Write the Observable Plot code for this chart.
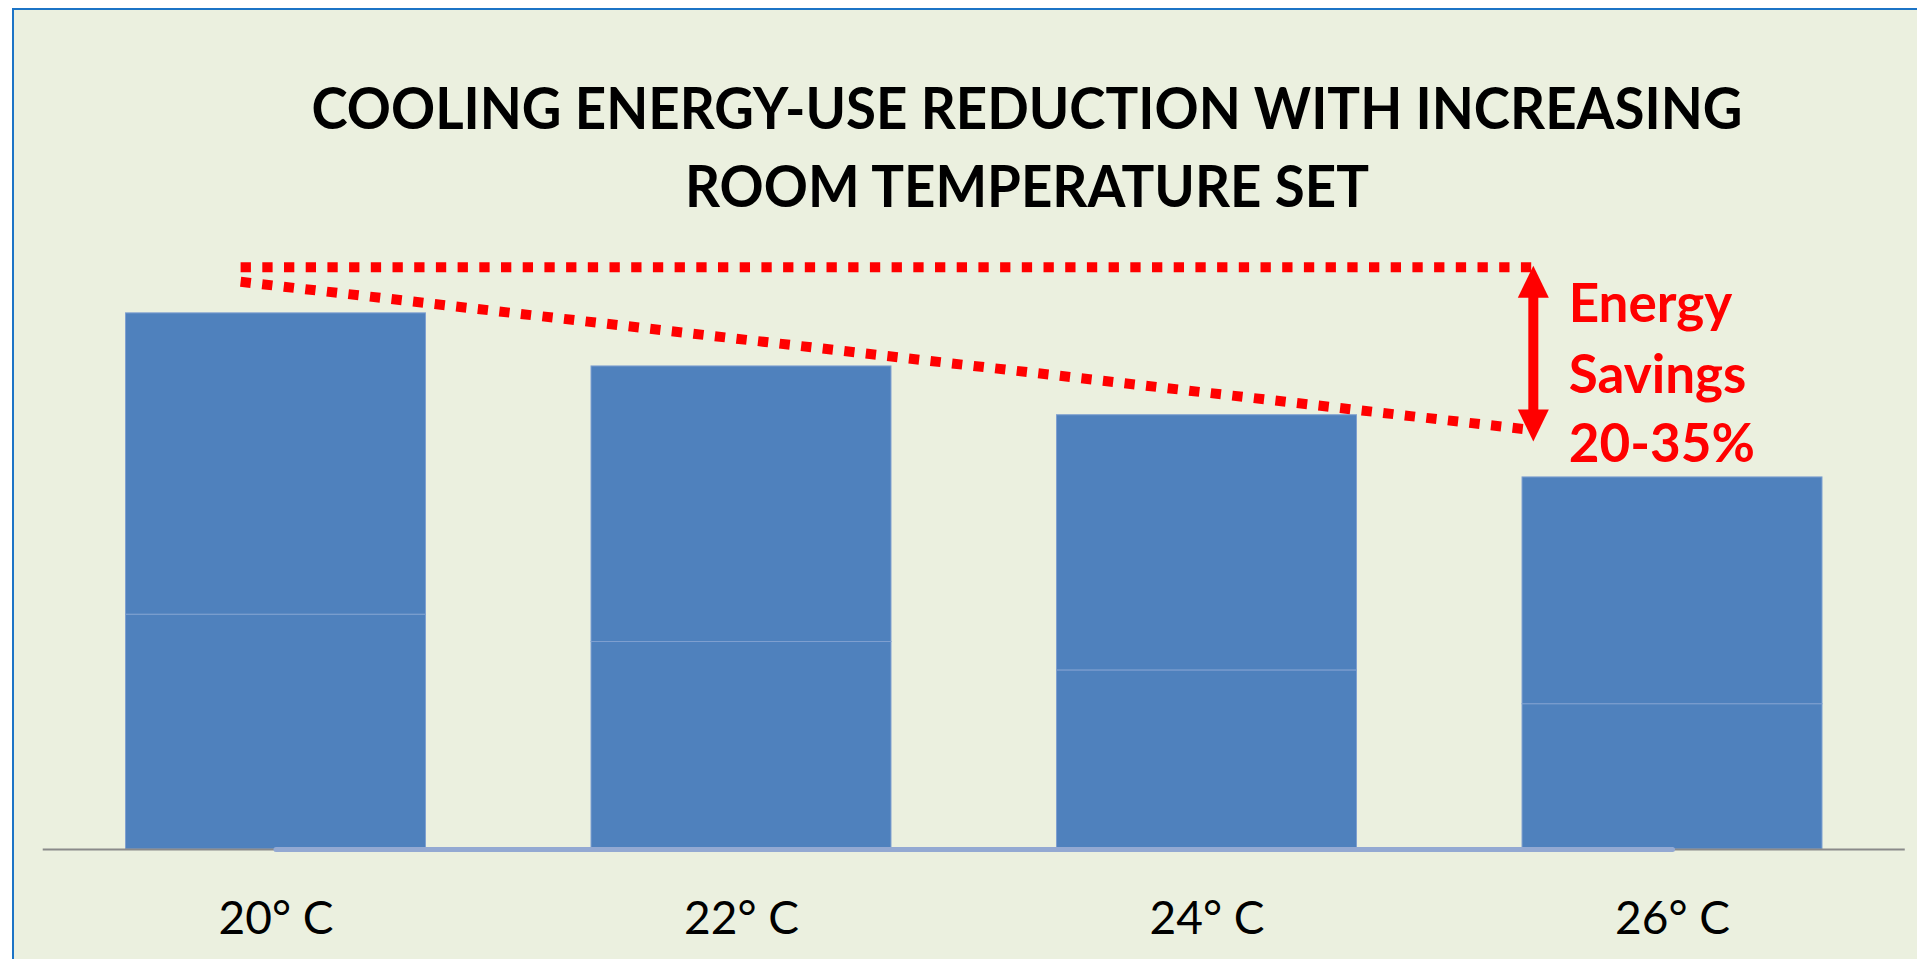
<!DOCTYPE html>
<html><head><meta charset="utf-8">
<script src="https://cdn.jsdelivr.net/npm/d3@7"></script>
<script src="https://cdn.jsdelivr.net/npm/@observablehq/plot@0.6"></script>
<style>
html,body{margin:0;padding:0;background:#ffffff;overflow:hidden;}
#panel{position:absolute;left:12px;top:8px;width:1917px;height:959px;background:#EBF0DF;border-left:2px solid #1C74C6;border-top:2px solid #1C74C6;}
#chart{position:absolute;left:0;top:0;}
</style></head><body>
<div id="panel"></div><div id="chart"></div>
<script>
// ---- data ----
const temperatures = ["20° C", "22° C", "24° C", "26° C"];
const lowerPart = [43.8, 38.7, 33.4, 27.1];
const upperPart = [56.2, 51.4, 47.6, 42.3];
const baselineSeries = [0, 0, 0, 0];
const topGuide = [{x: -0.076, y: 108.6}, {x: 2.699, y: 108.6}];
const slopeGuide = [{x: -0.076, y: 105.9}, {x: 2.682, y: 78.4}];
const savingsArrow = [{x: 2.701, top: 108.9, bottom: 76.1}];
const savingsLabel = ["Energy", "Savings", "20-35%"];
const savingsLabelY = [98.3, 85.2, 72.2];
const savingsLabelX = 2.777;
const axisExtent = [-0.5, 3.5];
const titleLines = ["COOLING ENERGY-USE REDUCTION WITH INCREASING", "ROOM TEMPERATURE SET"];

// ---- derived tables ----
const half = 0.3222;
const segments = [];
temperatures.forEach((t, i) => {
  segments.push({i, t, y1: 0, y2: lowerPart[i]});
  segments.push({i, t, y1: lowerPart[i], y2: lowerPart[i] + upperPart[i]});
});
const baseLine = temperatures.map((t, i) => ({i, v: baselineSeries[i]}));
const tipUp = savingsArrow.map(d => ({x: d.x, y: d.top}));
const tipDown = savingsArrow.map(d => ({x: d.x, y: d.bottom}));
const headUp = {draw(ctx) { ctx.moveTo(0, 0); ctx.lineTo(-15.5, 32); ctx.lineTo(15.5, 32); ctx.closePath(); }};
const headDown = {draw(ctx) { ctx.moveTo(0, 0); ctx.lineTo(-15.5, -32); ctx.lineTo(15.5, -32); ctx.closePath(); }};

const red = "#FF0000";
const chart = Plot.plot({
  width: 1917,
  height: 959,
  marginLeft: 125.5,
  marginRight: 95,
  marginTop: 18,
  marginBottom: 110,
  style: {background: "transparent", fontFamily: "Lato"},
  x: {domain: [-half, 3 + half]},
  y: {domain: [0, 155], axis: null},
  marks: [
    Plot.rectY(segments, {
      x1: d => d.i - half, x2: d => d.i + half, y1: "y1", y2: "y2",
      fill: "#4F81BD", stroke: "#7FA0D0", strokeWidth: 1
    }),
    Plot.ruleY([0], {x1: axisExtent[0], x2: axisExtent[1], stroke: "#8A8A8A", strokeWidth: 2}),
    Plot.line(baseLine, {x: "i", y: "v", stroke: "#93A9D2", strokeWidth: 5, strokeLinecap: "round"}),
    Plot.axisX({
      ticks: [0, 1, 2, 3], tickFormat: i => temperatures[i],
      tickSize: 0, tickPadding: 52, fontSize: 46, fontFamily: "Lato", fill: "#000000"
    }),
    Plot.line(topGuide, {x: "x", y: "y", stroke: red, strokeWidth: 10, strokeDasharray: "10.3,11.4", strokeLinecap: "butt"}),
    Plot.line(slopeGuide, {x: "x", y: "y", stroke: red, strokeWidth: 10, strokeDasharray: "10.3,11.4", strokeLinecap: "butt"}),
    Plot.ruleX(savingsArrow, {x: "x", y1: "top", y2: "bottom", stroke: red, strokeWidth: 10, insetTop: 30, insetBottom: 30}),
    Plot.dot(tipUp, {x: "x", y: "y", symbol: headUp, fill: red, stroke: "none"}),
    Plot.dot(tipDown, {x: "x", y: "y", symbol: headDown, fill: red, stroke: "none"}),
    Plot.text(savingsLabel.map((t, k) => ({t, y: savingsLabelY[k]})), {
      x: savingsLabelX, y: "y", text: "t", textAnchor: "start", lineAnchor: "bottom",
      fontSize: 53, fontWeight: "bold", fontFamily: "Lato", fill: red
    }),
    Plot.text([titleLines[0]], {
      frameAnchor: "top", dx: 52.75, dy: 110, lineAnchor: "bottom",
      fontSize: 58, fontWeight: "bold", fontFamily: "Lato", fill: "#000000"
    }),
    Plot.text([titleLines[1]], {
      frameAnchor: "top", dx: 52.75, dy: 188.7, lineAnchor: "bottom",
      fontSize: 58, fontWeight: "bold", fontFamily: "Lato", fill: "#000000"
    })
  ]
});
document.getElementById("chart").appendChild(chart);

// condense the title glyphs horizontally to match the narrow original face
const texts = Array.from(chart.querySelectorAll("text"));
const t1 = texts.find(t => t.textContent === titleLines[0]);
const t2 = texts.find(t => t.textContent === titleLines[1]);
if (t1 && t2) {
  const k = 1431 / t1.getComputedTextLength();
  [t1, t2].forEach(t => {
    const L = t.getComputedTextLength();
    t.setAttribute("textLength", (L * k).toFixed(1));
    t.setAttribute("lengthAdjust", "spacingAndGlyphs");
  });
}
</script>
</body></html>
